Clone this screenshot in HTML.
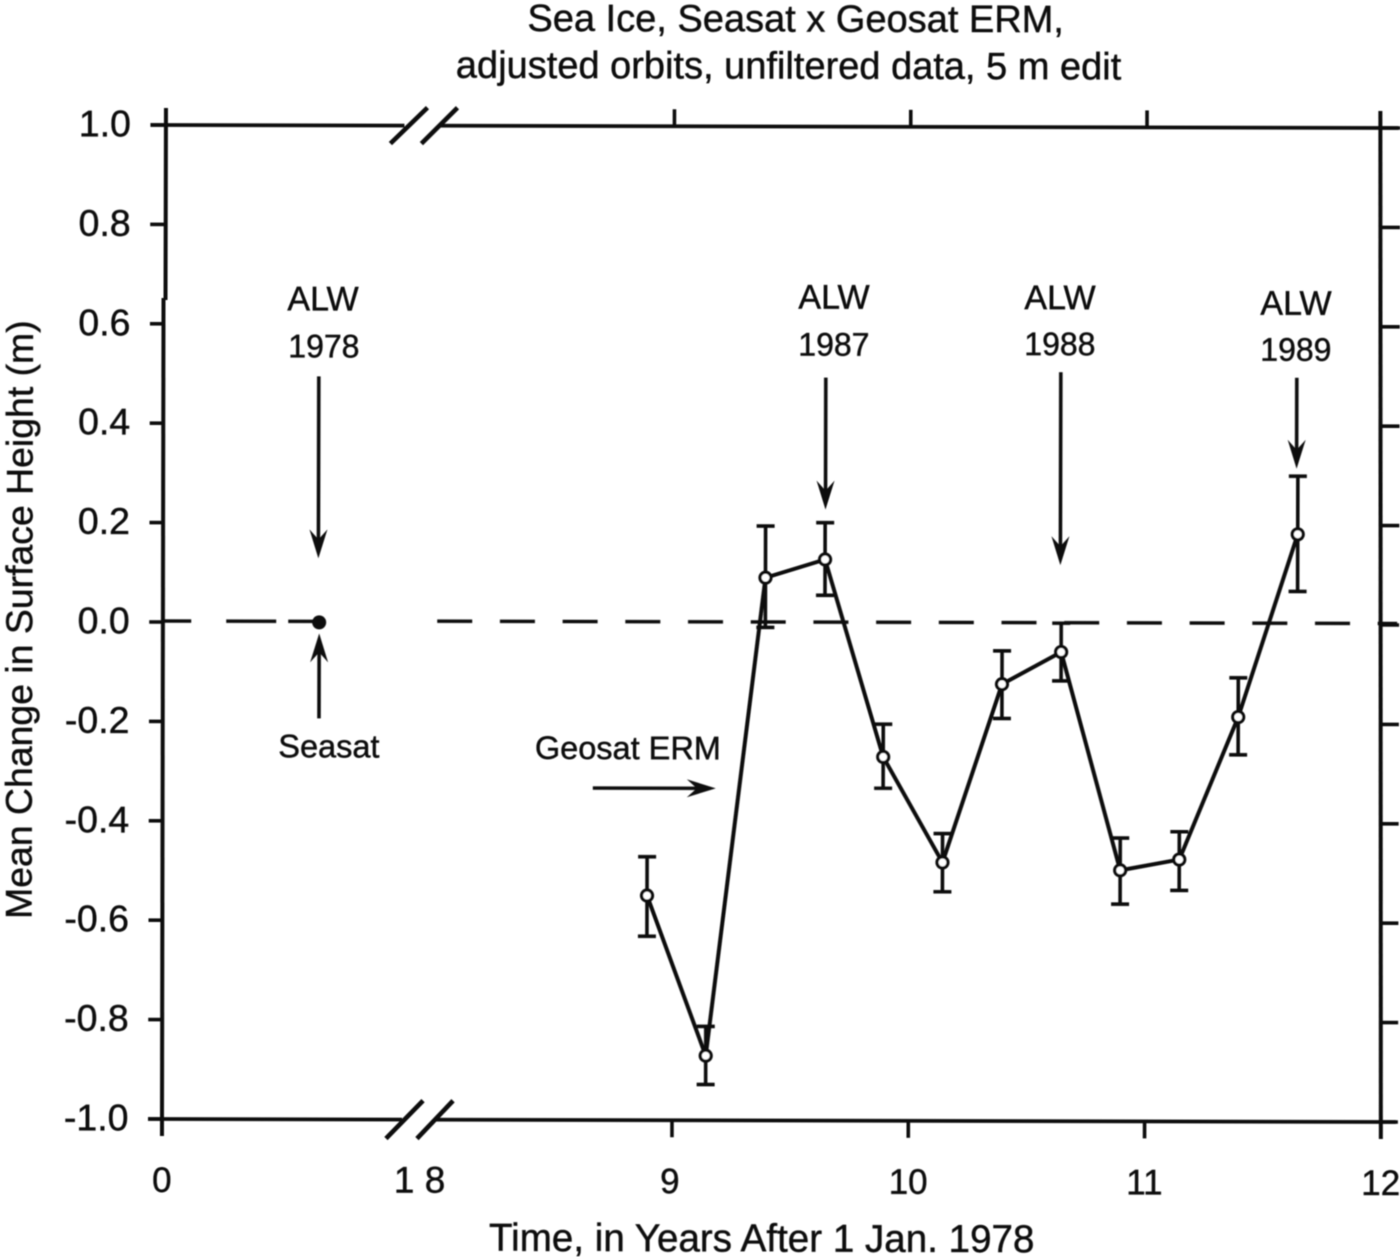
<!DOCTYPE html>
<html lang="en">
<head>
<meta charset="utf-8">
<title>Sea Ice, Seasat x Geosat ERM</title>
<style>
html,body{margin:0;padding:0;background:#fff;width:1400px;height:1257px;overflow:hidden}
svg{display:block}
text{font-family:"Liberation Sans",Arial,sans-serif;fill:#111;stroke:#111;stroke-width:.45px;font-size:33px}
</style>
</head>
<body>
<svg id="chart" xmlns="http://www.w3.org/2000/svg" width="1400" height="1257" viewBox="0 0 1400 1257">
<defs>
<filter id="scan" x="-5%" y="-5%" width="110%" height="110%"><feGaussianBlur stdDeviation="0.5"/></filter>
</defs>
<rect width="1400" height="1257" fill="#fff"/>
<g id="root" filter="url(#scan)" transform="rotate(0.14 162 1119)"></g>
</svg>
<script>
var geosatYears = [8.892, 9.142, 9.39, 9.642, 9.89, 10.142, 10.392, 10.642, 10.894, 11.144, 11.392, 11.642];
var geosatValues = [-0.548, -0.87, 0.092, 0.129, -0.268, -0.48, -0.121, -0.056, -0.495, -0.473, -0.186, 0.182];
var errorHigh = [-0.47, -0.811, 0.196, 0.203, -0.202, -0.422, -0.054, 0.002, -0.43, -0.417, -0.107, 0.299];
var errorLow = [-0.63, -0.928, -0.008, 0.057, -0.331, -0.539, -0.19, -0.114, -0.563, -0.535, -0.262, 0.067];
var seasatYear = [0.66];
var seasatValue = [0];
var yTicks = [1.0, 0.8, 0.6, 0.4, 0.2, 0.0, -0.2, -0.4, -0.6, -0.8, -1.0];
var yTickLabels = ["1.0", "0.8", "0.6", "0.4", "0.2", "0.0", "-0.2", "-0.4", "-0.6", "-0.8", "-1.0"];
var xTicks = [0, 9, 10, 11, 12];
var xTickLabels = ["0", "9", "10", "11", "12"];
var xBreakTick = [8];
var xBreakLabel = ["1 8"];

var NS = "http://www.w3.org/2000/svg";
var root = document.getElementById("root");

function sx(v) { return v < 5 ? 162 + v * 236.3 : 672 + (v - 9) * 236.3; }
function sy(v) { return 622 - 497 * v; }

function add(tag, attrs, parent) {
  var el = document.createElementNS(NS, tag);
  for (var k in attrs) el.setAttribute(k, attrs[k]);
  (parent || root).appendChild(el);
  return el;
}
function line(x1, y1, x2, y2, w, parent) {
  return add("line", {x1: x1, y1: y1, x2: x2, y2: y2, stroke: "#111", "stroke-width": w}, parent);
}
function label(str, x, y, anchor, size, parent) {
  var t = add("text", {x: x, y: y, "text-anchor": anchor || "middle"}, parent);
  t.style.fontSize = (size || 33) + "px";
  t.textContent = str;
  return t;
}

var el;
var left = sx(0), right = sx(12), top_ = sy(1), bot = sy(-1);

/* frame */
el = line(left + 1.5, top_ - 17, left + 1.5, 300, 4);


el = line(left - 0.5, 298, left, bot + 17, 4);


el = line(right - 3, top_ - 17, right, bot + 17, 4);


el = line(left - 14, top_, 402, top_, 3.8);


el = line(436, top_, right + 15, top_, 3.8);


el = line(left - 14, bot, 402, bot, 3.8);


el = line(436, bot, right + 15, bot, 3.8);



/* axis-break marks */
[[387, 426], [418, 456]].forEach(function (b) {
  var g = line(b[0] + 1, top_ + 18, b[1] - 1, top_ - 18, 4.6);
  
  
  var h = line(b[0] - 1, bot + 19, b[1] - 3, bot - 19, 4.6);
  
  
});

/* y ticks */
yTicks.forEach(function (v, i) {
  var y = sy(v);
  var a = line(left - 14, y, left, y, 3.6);
  
  
  var b = line(right - 2, y, right + 17, y, 3.6);
  
  
  var t = label(yTickLabels[i], 128.5, y + 11.5, "end", 37.5);
  
  
});

/* x ticks */
xTicks.forEach(function (v, i) {
  var x = sx(v);
  if (v !== 0 && v !== 12) {
    var a = line(x, top_ - 17, x, top_, 3.6);
    
    
    var b = line(x, bot, x, bot + 17, 3.6);
    
    
  }
  var t = label(xTickLabels[i], x - (v === 9 ? 2 : 0), 1192, "middle", 35);
  
  
});
xBreakTick.forEach(function (v, i) {
  var t = label(xBreakLabel[i], sx(v) - 16, 1192, "middle", 37);
  
  
});

/* zero dashed reference line */
el = line(left, sy(0) - 1, 325, sy(0) - 1, 3.4);
el.setAttribute('stroke-dasharray', '28 35 50 12 35 20');


el = line(436, sy(0) - 1.5, right + 15, sy(0) - 1.5, 3.4);
el.setAttribute('stroke-dasharray', '35 27.7');



/* error bars */
geosatYears.forEach(function (yr, i) {
  var x = sx(yr), hi = sy(errorHigh[i]), lo = sy(errorLow[i]);
  var g = add("g", {});
  
  
  line(x, hi, x, lo, 3.6, g);
  line(x - 9, hi, x + 9, hi, 3.6, g);
  line(x - 9, lo, x + 9, lo, 3.6, g);
});

/* series line */
el = add("polyline", {
  points: geosatYears.map(function (yr, i) { return sx(yr) + "," + sy(geosatValues[i]); }).join(" "),
  fill: "none", stroke: "#111", "stroke-width": 4, "stroke-linejoin": "round"
});



/* series points */
geosatYears.forEach(function (yr, i) {
  var c = add("circle", {cx: sx(yr), cy: sy(geosatValues[i]), r: 5.5, fill: "#fff", stroke: "#111", "stroke-width": 3.2});
  
  
});
seasatYear.forEach(function (yr, i) {
  var c = add("circle", {cx: sx(yr), cy: sy(seasatValue[i]), r: 7, fill: "#111"});
  
  
});

/* annotation arrows */
function arrow(name, x1, y1, x2, y2) {
  var g = add("g", {});
  
  
  var dx = x2 - x1, dy = y2 - y1, L = Math.sqrt(dx * dx + dy * dy), ux = dx / L, uy = dy / L, px = -uy, py = ux;
  line(x1, y1, x2 - ux * 14, y2 - uy * 14, 3.6, g);
  var p = [
    [x2, y2],
    [x2 - ux * 29 + px * 9, y2 - uy * 29 + py * 9],
    [x2 - ux * 19, y2 - uy * 19],
    [x2 - ux * 29 - px * 9, y2 - uy * 29 - py * 9]
  ].map(function (q) { return q[0] + "," + q[1]; }).join(" ");
  add("polygon", {points: p, fill: "#111"}, g);
}
arrow('alw-1978-arrow', 317, 376, 317, 558);
arrow('alw-1987-arrow', 824, 376, 824, 508);
arrow('alw-1988-arrow', 1059, 370, 1059, 563);
arrow('alw-1989-arrow', 1295, 375, 1295, 466);
arrow('seasat-arrow', 318, 718, 318, 633);
arrow('geosat-erm-arrow', 592, 787, 715, 787);

/* annotation labels */
[
  ['alw-1978-label', 'ALW', 321, 310, 34], ['alw-1978-year', '1978', 322, 357, 32],
  ['alw-1987-label', 'ALW', 832, 307, 34], ['alw-1987-year', '1987', 832, 354, 32],
  ['alw-1988-label', 'ALW', 1058, 307, 34], ['alw-1988-year', '1988', 1058, 353, 32],
  ['alw-1989-label', 'ALW', 1294, 312, 34], ['alw-1989-year', '1989', 1294, 358, 32],
  ['seasat-label', 'Seasat', 328, 757, 32.5], ['geosat-erm-label', 'Geosat ERM', 627, 758, 32.5]
].forEach(function (d) {
  var t = label(d[1], d[2], d[3], "middle", d[4]);
  
  
});

/* titles */
el = label("Sea Ice, Seasat x Geosat ERM,", 793, 30, "middle", 38);


el = label("adjusted orbits, unfiltered data, 5 m edit", 786, 77, "middle", 38);


el = label("Time, in Years After 1 Jan. 1978", 762, 1250, "middle", 38.6);


el = label("Mean Change in Surface Height (m)", 0, 0, "middle", 37.4);
el.setAttribute('transform', 'translate(31 620) rotate(-90)');


</script>
</body>
</html>
